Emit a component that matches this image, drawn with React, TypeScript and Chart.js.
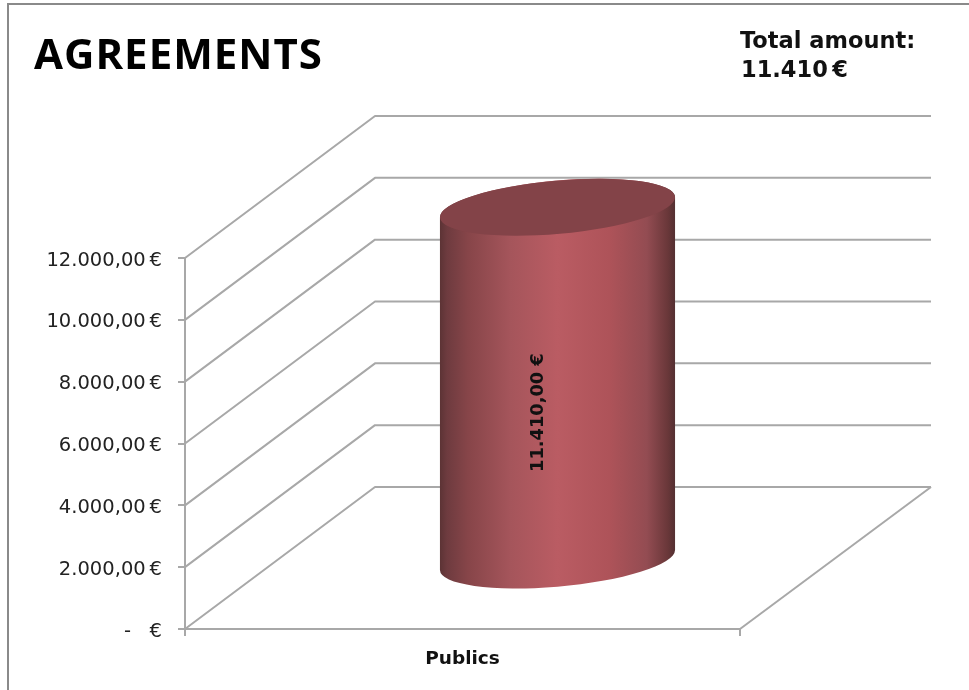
import React, { useEffect, useRef } from "react";
import { Chart, registerables } from "chart.js";

Chart.register(...registerables);

const categories = ["Publics"];
const seriesValues = [11410];
const titleText = "AGREEMENTS";
const totalLines = ["Total amount:", "11.410\u2009€"];
const dataLabels = ["11.410,00 €"];

const TITLE_FONT = "'Open Sans', sans-serif";
const FONT = "'DejaVu Sans', sans-serif";
const GRID = "#a8a8a8";
const DEPTH_X = 190;
const DEPTH_Y = -142;

const frameAndWalls = {
  id: "frameAndWalls",
  beforeDraw(chart: any) {
    const { ctx } = chart;
    ctx.save();
    ctx.strokeStyle = "#8a8a8a";
    ctx.lineWidth = 2;
    ctx.beginPath();
    ctx.moveTo(8, 690);
    ctx.lineTo(8, 4);
    ctx.lineTo(969, 4);
    ctx.stroke();
    ctx.fillStyle = "#000";
    ctx.textBaseline = "alphabetic";
    ctx.textAlign = "left";
    ctx.font = `bold 42px ${TITLE_FONT}`;
    ctx.letterSpacing = "1px";
    ctx.fillText(titleText, 34, 69);
    ctx.letterSpacing = "0px";
    ctx.fillStyle = "#111";
    ctx.font = `bold 22.5px ${FONT}`;
    ctx.fillText(totalLines[0], 740, 48);
    ctx.fillText(totalLines[1], 741, 77);
    ctx.restore();
  },
  beforeDatasetsDraw(chart: any) {
    const { ctx, chartArea, scales } = chart;
    const { left, right, bottom } = chartArea;
    ctx.save();
    ctx.strokeStyle = GRID;
    ctx.lineWidth = 2;
    ctx.lineJoin = "round";
    const farRight = right + DEPTH_X + 1;
    for (const tick of scales.y.ticks) {
      const y = scales.y.getPixelForValue(tick.value);
      ctx.beginPath();
      ctx.moveTo(left, y);
      ctx.lineTo(left + DEPTH_X, y + DEPTH_Y);
      ctx.lineTo(farRight, y + DEPTH_Y);
      ctx.stroke();
    }
    ctx.beginPath();
    ctx.moveTo(farRight, bottom + DEPTH_Y);
    ctx.lineTo(right, bottom);
    ctx.stroke();
    ctx.restore();
  },
};

const cylinder = {
  id: "cylinder",
  afterDatasetsDraw(chart: any) {
    const { ctx } = chart;
    const bar = chart.getDatasetMeta(0).data[0];
    const a = bar.width / 2 + 0.5;
    const b = 26.6;
    const rot = (-5.1 * Math.PI) / 180;
    const cx = bar.x + DEPTH_X / 2;
    const yTop = bar.y + DEPTH_Y / 2 + 2;
    const yBottom = bar.base + DEPTH_Y / 2 + 3;
    const t0 = Math.atan2(-b * Math.sin(rot), a * Math.cos(rot));
    const halfW = bar.width / 2;

    ctx.save();
    const g = ctx.createLinearGradient(cx - halfW, 0, cx + halfW, 0);
    g.addColorStop(0, "#5c3335");
    g.addColorStop(0.03, "#6e3b3f");
    g.addColorStop(0.12, "#874549");
    g.addColorStop(0.3, "#a5555b");
    g.addColorStop(0.5, "#ba5c63");
    g.addColorStop(0.72, "#ae5359");
    g.addColorStop(0.88, "#934c52");
    g.addColorStop(0.97, "#693739");
    g.addColorStop(1, "#543032");
    ctx.fillStyle = g;
    ctx.beginPath();
    ctx.ellipse(cx, yBottom, a, b, rot, t0, t0 + Math.PI, false);
    ctx.ellipse(cx, yTop, a, b, rot, t0 + Math.PI, t0 + 2 * Math.PI, false);
    ctx.closePath();
    ctx.fill();

    ctx.fillStyle = "#834348";
    ctx.beginPath();
    ctx.ellipse(cx, yTop, a, b, rot, 0, 2 * Math.PI);
    ctx.fill();

    ctx.translate(cx - 19, (yTop + yBottom) / 2 + 29);
    ctx.rotate(-Math.PI / 2);
    ctx.fillStyle = "#111";
    ctx.font = `bold 17.8px ${FONT}`;
    ctx.textAlign = "center";
    ctx.textBaseline = "middle";
    ctx.fillText(dataLabels[0], 0, 0);
    ctx.restore();
  },
};

export default function App() {
  const ref = useRef<HTMLCanvasElement>(null);
  useEffect(() => {
    const chart = new Chart(ref.current!, {
      type: "bar",
      data: {
        labels: categories,
        datasets: [
          {
            data: seriesValues,
            backgroundColor: "rgba(0,0,0,0)",
            barPercentage: 0.4234,
            categoryPercentage: 1,
          },
        ],
      },
      plugins: [frameAndWalls, cylinder],
      options: {
        responsive: false,
        animation: false,
        devicePixelRatio: 1,
        layout: { padding: { top: 258, right: 229, left: 0, bottom: 0 } },
        plugins: { legend: { display: false }, tooltip: { enabled: false }, title: { display: false } },
        scales: {
          x: {
            afterFit(scale: any) {
              scale.height = 61;
            },
            grid: { drawOnChartArea: false, color: GRID, lineWidth: 2, tickLength: 7, offset: true },
            border: { color: GRID, width: 2 },
            ticks: {
              color: "#111",
              padding: 12,
              font: { family: FONT, size: 18.5, weight: "bold" },
            },
          },
          y: {
            min: 0,
            max: 12000,
            afterFit(scale: any) {
              scale.width = 185;
              if (!scale.__shifted) {
                scale.__shifted = true;
                const drawLabels = scale.drawLabels;
                scale.drawLabels = function (area: any) {
                  this.ctx.save();
                  this.ctx.translate(0, 2.5);
                  drawLabels.call(this, area);
                  this.ctx.restore();
                };
              }
            },
            grid: { drawOnChartArea: false, color: GRID, lineWidth: 2, tickLength: 7 },
            border: { color: GRID, width: 2 },
            ticks: {
              stepSize: 2000,
              color: "#222",
              padding: 16,
              font: { family: FONT, size: 19.5 },
              callback(value: any) {
                if (value === 0) return "-   €";
                const thousands = Math.floor(value / 1000);
                return `${thousands}.000,00\u2009€`;
              },
            },
          },
        },
      },
    });
    return () => chart.destroy();
  }, []);
  return (
    <div style={{ position: "absolute", left: 0, top: 0, width: 969, height: 690, background: "#fff" }}>
      <canvas ref={ref} width={969} height={690} style={{ display: "block" }} />
    </div>
  );
}
